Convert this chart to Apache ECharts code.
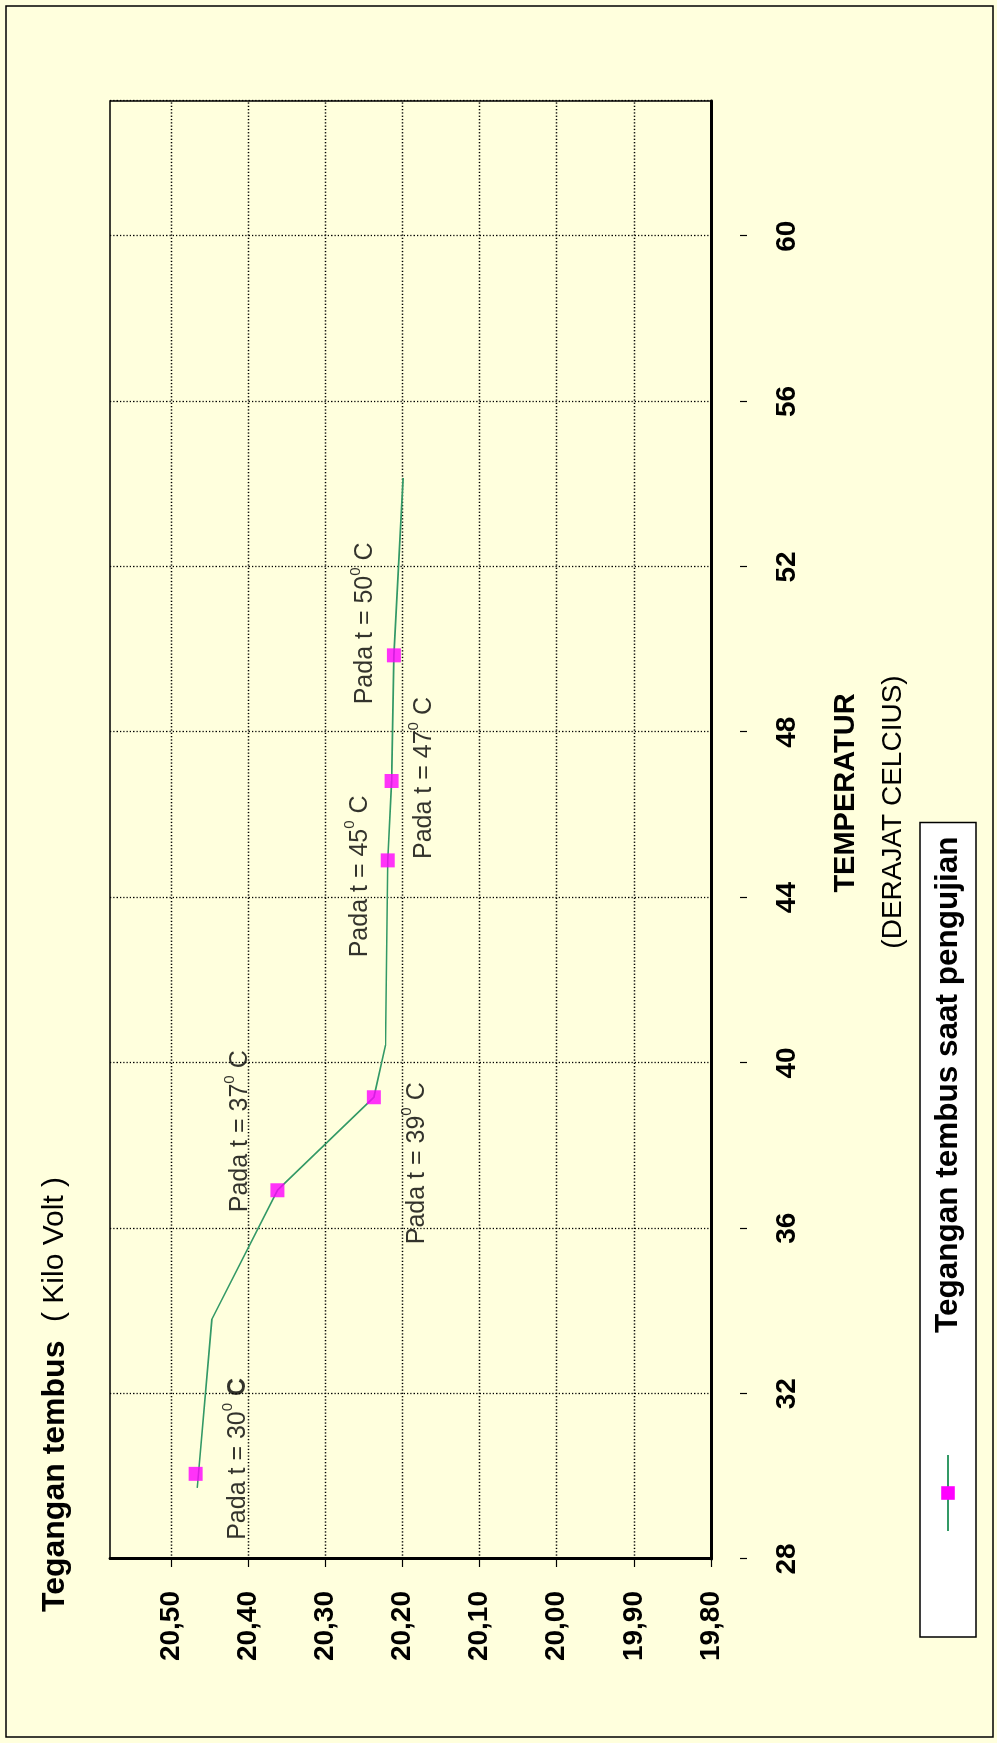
<!DOCTYPE html>
<html>
<head>
<meta charset="utf-8">
<title>Tegangan tembus</title>
<script src="https://cdn.jsdelivr.net/npm/echarts@6/dist/echarts.min.js"></script>
<style>
  html, body { margin: 0; padding: 0; background: #FFFFDD; }
  body { width: 997px; height: 1743px; overflow: hidden; position: relative; }
  /* chart is drawn landscape, then turned a quarter left like the scan */
  #chart {
    position: absolute; left: 0; top: 0;
    width: 1743px; height: 997px;
    transform-origin: 0 0;
    transform: translate(0px, 1743px) rotate(-90deg);
  }
</style>
</head>
<body>
<div id="chart"></div>
<script>
// temperature (C) / breakdown voltage (kV)
const lineTemps = [29.72, 33.80, 36.92, 39.17, 40.43, 44.90, 46.82, 49.86, 54.15];
const lineVolts = [20.466, 20.447, 20.362, 20.237, 20.222, 20.219, 20.214, 20.211, 20.199];

const testTemps = [30.06, 36.92, 39.17, 44.90, 46.82, 49.86];
const testVolts = [20.468, 20.362, 20.237, 20.219, 20.214, 20.211];
const testLabels = ['30', '37', '39', '45', '47', '50'];

const tempTicks = [28, 32, 36, 40, 44, 48, 52, 56, 60];
const voltTicks = [19.8, 19.9, 20.0, 20.1, 20.2, 20.3, 20.4, 20.5];

const seriesName = 'Tegangan tembus saat pengujian';

// where each "Pada t = .." text sits relative to its point
const labelShift = [[15, 40], [59, -40], [-66, 41], [-16, -30], [3, 30], [32, -31]];

const FONT = '"Liberation Sans", Arial, sans-serif';

const chart = echarts.init(document.getElementById('chart'));

const fmtVolt = (v) => v.toFixed(2).replace('.', ',');

const testPoints = testTemps.map((t, i) => ({
  value: [t, testVolts[i]],
  label: {
    offset: labelShift[i],
    formatter: '{a|Pada t = ' + testLabels[i] + '}{s|0}{a| }' + (i === 0 ? '{cb|C}' : '{a|C}')
  }
}));

const option = {
  backgroundColor: '#FFFFDD',
  animation: false,
  grid: {
    left: 184,
    right: 101,
    top: 110,
    bottom: 286,
    show: true,
    borderColor: '#000',
    borderWidth: 1.5,
    backgroundColor: 'transparent',
    outerBoundsMode: 'none'
  },
  legend: {
    data: [seriesName],
    left: 106,
    top: 920,
    backgroundColor: '#fff',
    borderColor: '#000',
    borderWidth: 1.5,
    borderRadius: 0,
    padding: [12, 14, 12, 105],
    itemWidth: 76,
    itemHeight: 17,
    selectedMode: false,
    textStyle: {
      fontFamily: FONT,
      fontWeight: 'bold',
      fontSize: 31.5,
      color: '#000',
      padding: [0, 0, 0, 117]
    }
  },
  xAxis: [
    {
      type: 'value',
      min: 28,
      max: 63.27,
      interval: 4,
      position: 'bottom',
      axisLine: { show: true, lineStyle: { color: '#000', width: 3 } },
      axisTick: { show: false },
      axisLabel: { show: false },
      splitLine: { show: true, lineStyle: { color: '#000', width: 1.3, type: [1.3, 2] } }
    },
    {
      type: 'value',
      min: 28,
      max: 63.27,
      interval: 4,
      position: 'bottom',
      offset: 29,
      axisLine: { show: false },
      axisTick: {
        show: true,
        customValues: tempTicks,
        length: 7,
        lineStyle: { color: '#000', width: 1.2 }
      },
      axisLabel: {
        customValues: tempTicks,
        margin: 33,
        color: '#000',
        fontFamily: FONT,
        fontWeight: 'bold',
        fontSize: 28
      },
      splitLine: { show: false }
    }
  ],
  yAxis: {
    type: 'value',
    min: 19.8,
    max: 20.579,
    interval: 0.1,
    position: 'left',
    axisLine: { show: true, lineStyle: { color: '#000', width: 3 } },
    axisTick: {
      show: true,
      customValues: voltTicks,
      length: 8,
      lineStyle: { color: '#000', width: 1.2 }
    },
    axisLabel: {
      customValues: voltTicks,
      formatter: fmtVolt,
      margin: 32,
      color: '#000',
      fontFamily: FONT,
      fontWeight: 'bold',
      fontSize: 28
    },
    splitLine: { show: true, lineStyle: { color: '#000', width: 1.3, type: [1.3, 2] } }
  },
  series: [
    {
      name: seriesName,
      type: 'line',
      xAxisIndex: 0,
      data: lineTemps.map((t, i) => [t, lineVolts[i]]),
      symbol: 'rect',
      symbolSize: 14,
      showSymbol: false,
      itemStyle: { color: '#FF00FF' },
      lineStyle: { color: '#339966', width: 1.6 },
      z: 2
    },
    {
      name: 'Titik pengujian',
      type: 'scatter',
      xAxisIndex: 0,
      data: testPoints,
      symbol: 'rect',
      symbolSize: 14,
      itemStyle: { color: '#FF00FF' },
      z: 3,
      label: {
        show: true,
        position: 'inside',
        rich: {
          a: { fontFamily: FONT, fontSize: 25, color: '#000', lineHeight: 30, verticalAlign: 'bottom' },
          cb: { fontFamily: FONT, fontSize: 25, fontWeight: 'bold', color: '#000', lineHeight: 30, verticalAlign: 'bottom' },
          s: { fontFamily: FONT, fontSize: 15, color: '#000', lineHeight: 17, verticalAlign: 'top' }
        }
      }
    }
  ],
  graphic: [
    {
      type: 'rect',
      silent: true,
      shape: { x: 6, y: 6, width: 1731, height: 987 },
      style: { fill: 'none', stroke: '#000', lineWidth: 1.5 }
    },
    {
      type: 'text',
      x: 131,
      y: 55,
      style: {
        text: 'Tegangan tembus',
        fill: '#000',
        fontFamily: FONT,
        fontWeight: 'bold',
        fontSize: 32,
        align: 'left',
        verticalAlign: 'middle'
      }
    },
    {
      type: 'text',
      x: 421,
      y: 55,
      style: {
        text: '( Kilo Volt )',
        fill: '#000',
        fontFamily: FONT,
        fontSize: 30,
        align: 'left',
        verticalAlign: 'middle'
      }
    },
    {
      type: 'text',
      x: 950,
      y: 846,
      style: {
        text: 'TEMPERATUR',
        fill: '#000',
        fontFamily: FONT,
        fontWeight: 'bold',
        fontSize: 29,
        align: 'center',
        verticalAlign: 'middle'
      }
    },
    {
      type: 'text',
      x: 931,
      y: 893,
      style: {
        text: '(DERAJAT CELCIUS)',
        fill: '#000',
        fontFamily: FONT,
        fontSize: 28,
        align: 'center',
        verticalAlign: 'middle'
      }
    }
  ]
};

chart.setOption(option);
</script>
</body>
</html>
